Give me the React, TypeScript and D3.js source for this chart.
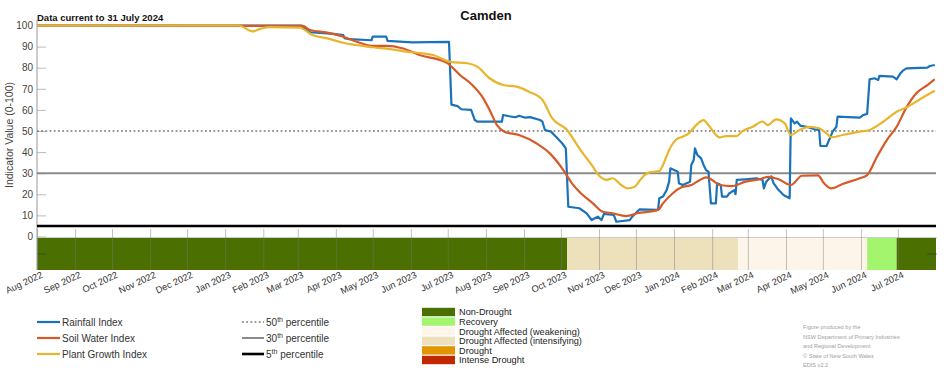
import { useRef, useEffect } from 'react';
import * as d3 from 'd3';

// readings (date, index value)
const rainfallIndex: [string, number][] = [
  ['2022-08-01', 100], ['2023-03-04', 100], ['2023-03-08', 97.9], ['2023-03-11', 96.8], ['2023-03-30', 96],
  ['2023-04-07', 95.5], ['2023-04-08', 94], ['2023-04-12', 93.5], ['2023-04-30', 93], ['2023-05-01', 94.7],
  ['2023-05-12', 94.7], ['2023-05-13', 92.7], ['2023-06-02', 92], ['2023-07-02', 92.2], ['2023-07-04', 62.5],
  ['2023-07-09', 61.8], ['2023-07-12', 60.3], ['2023-07-20', 60], ['2023-07-23', 55.2], ['2023-07-25', 54.4],
  ['2023-08-14', 54.4], ['2023-08-15', 57.6], ['2023-08-20', 57], ['2023-08-25', 56.5], ['2023-08-28', 57.2],
  ['2023-09-02', 56.3], ['2023-09-06', 56.6], ['2023-09-14', 55.2], ['2023-09-16', 54.4], ['2023-09-18', 50.5],
  ['2023-09-23', 49.7], ['2023-09-27', 47.3], ['2023-10-02', 44.2], ['2023-10-05', 41.8], ['2023-10-07', 14.1],
  ['2023-10-16', 13.4], ['2023-10-22', 11], ['2023-10-26', 7.8], ['2023-10-31', 9.4], ['2023-11-03', 7.8],
  ['2023-11-05', 10.7], ['2023-11-13', 10.2], ['2023-11-15', 7], ['2023-11-26', 7.8], ['2023-11-28', 9.4],
  ['2023-12-02', 11.7], ['2023-12-04', 12.9], ['2023-12-19', 12.6], ['2023-12-20', 18.1], ['2023-12-23', 18.9],
  ['2023-12-26', 22], ['2023-12-28', 26], ['2023-12-29', 32.3], ['2024-01-01', 31.5], ['2024-01-04', 30.7],
  ['2024-01-05', 25.2], ['2024-01-08', 24.4], ['2024-01-14', 26], ['2024-01-15', 33.9], ['2024-01-17', 36.3],
  ['2024-01-18', 41.8], ['2024-01-20', 38.6], ['2024-01-23', 37], ['2024-01-25', 33.9], ['2024-01-27', 31.5],
  ['2024-01-29', 30.7], ['2024-01-31', 15.7], ['2024-02-04', 15.7], ['2024-02-05', 25.2], ['2024-02-08', 24.4],
  ['2024-02-09', 18.9], ['2024-02-13', 18.9], ['2024-02-15', 20.5], ['2024-02-19', 22], ['2024-02-20', 20.1],
  ['2024-02-21', 26.8], ['2024-02-28', 27.1], ['2024-03-08', 27.6], ['2024-03-13', 26.8], ['2024-03-14', 22.8],
  ['2024-03-16', 26], ['2024-03-20', 28.5], ['2024-03-22', 25.2], ['2024-03-26', 22], ['2024-03-30', 19.7],
  ['2024-04-04', 18.1], ['2024-04-05', 56], ['2024-04-08', 53.6], ['2024-04-10', 54.4], ['2024-04-13', 52.4],
  ['2024-04-18', 52], ['2024-04-24', 50.8], ['2024-04-28', 50.5], ['2024-04-29', 42.9], ['2024-05-04', 42.9],
  ['2024-05-06', 45.7], ['2024-05-09', 49.7], ['2024-05-12', 52], ['2024-05-13', 56.8], ['2024-05-31', 56.3],
  ['2024-06-03', 57.6], ['2024-06-06', 58.1], ['2024-06-08', 74.5], ['2024-06-12', 75], ['2024-06-15', 74.2],
  ['2024-06-16', 76.1], ['2024-06-27', 75.8], ['2024-06-30', 74.5], ['2024-07-03', 77.3], ['2024-07-05', 78.6],
  ['2024-07-08', 79.7], ['2024-07-25', 80], ['2024-07-27', 80.8], ['2024-07-31', 81.3],
];

const soilWaterIndex: [string, number][] = [
  ['2022-08-01', 100], ['2023-03-05', 99.8], ['2023-03-11', 97.9], ['2023-03-25', 96.6], ['2023-04-07', 94.7],
  ['2023-04-18', 92.3], ['2023-05-01', 90.3], ['2023-05-12', 90.3], ['2023-05-25', 89.2], ['2023-06-08', 86],
  ['2023-06-30', 82.4], ['2023-07-11', 76.5], ['2023-07-21', 71.8], ['2023-07-29', 66.3], ['2023-08-04', 60],
  ['2023-08-10', 52.8], ['2023-08-16', 49.7], ['2023-08-28', 48.1], ['2023-09-11', 44.2], ['2023-09-22', 39.4],
  ['2023-10-03', 31.5], ['2023-10-10', 25.2], ['2023-10-16', 21.2], ['2023-10-27', 15.7], ['2023-11-04', 11.7],
  ['2023-11-12', 11], ['2023-11-23', 9.7], ['2023-12-02', 11], ['2023-12-19', 12.6], ['2023-12-23', 15.7],
  ['2023-12-31', 20.5], ['2024-01-07', 23.3], ['2024-01-15', 24.4], ['2024-01-22', 26.8], ['2024-01-27', 28],
  ['2024-02-01', 26.8], ['2024-02-07', 24.4], ['2024-02-17', 23.9], ['2024-02-28', 26], ['2024-03-10', 27.1],
  ['2024-03-18', 28.3], ['2024-03-26', 27.1], ['2024-04-05', 24.4], ['2024-04-14', 28.8], ['2024-04-27', 29],
  ['2024-05-02', 25.2], ['2024-05-08', 22.8], ['2024-05-17', 24.9], ['2024-05-31', 27.6], ['2024-06-06', 29.1],
  ['2024-06-14', 37.8], ['2024-06-22', 45.7], ['2024-06-30', 52], ['2024-07-08', 61.2], ['2024-07-16', 67.9],
  ['2024-07-25', 71.8], ['2024-07-31', 74.5],
];

const plantGrowthIndex: [string, number][] = [
  ['2022-08-01', 100], ['2023-01-12', 100], ['2023-01-23', 97.2], ['2023-01-30', 98.5], ['2023-02-06', 99.2],
  ['2023-03-03', 99], ['2023-03-05', 98.5], ['2023-03-13', 95.5], ['2023-03-25', 93.9], ['2023-04-07', 91.8],
  ['2023-05-01', 89.7], ['2023-05-17', 88.7], ['2023-05-28', 87.6], ['2023-06-06', 87.1], ['2023-06-19', 86],
  ['2023-07-03', 82.8], ['2023-07-17', 82.1], ['2023-07-25', 80.5], ['2023-08-04', 75], ['2023-08-15', 71.8],
  ['2023-08-26', 71], ['2023-09-05', 68.6], ['2023-09-16', 64.7], ['2023-09-24', 56], ['2023-10-06', 50.5],
  ['2023-10-16', 41.8], ['2023-10-26', 33.9], ['2023-11-02', 28.3], ['2023-11-07', 26.8], ['2023-11-12', 27.6],
  ['2023-11-19', 24.4], ['2023-11-24', 22.8], ['2023-11-30', 23.6], ['2023-12-04', 26.4], ['2023-12-08', 29.1],
  ['2023-12-12', 30.4], ['2023-12-20', 31], ['2023-12-23', 33.9], ['2023-12-28', 41], ['2024-01-03', 46.1],
  ['2024-01-08', 47.3], ['2024-01-13', 48.9], ['2024-01-19', 52.8], ['2024-01-25', 55.2], ['2024-01-29', 52.8],
  ['2024-02-03', 48.9], ['2024-02-07', 47], ['2024-02-12', 47.6], ['2024-02-21', 47.6], ['2024-02-25', 49.7],
  ['2024-03-05', 52], ['2024-03-13', 54.5], ['2024-03-17', 52.8], ['2024-03-24', 55.5], ['2024-03-31', 53.6],
  ['2024-04-05', 48.1], ['2024-04-12', 50.5], ['2024-04-20', 52], ['2024-04-28', 51.3], ['2024-05-04', 48.9],
  ['2024-05-08', 47], ['2024-05-17', 48.1], ['2024-05-31', 49.7], ['2024-06-08', 50.5], ['2024-06-19', 54.4],
  ['2024-06-30', 59.1], ['2024-07-10', 61.8], ['2024-07-18', 64.7], ['2024-07-31', 69.1],
];

// drought phase bar: [start, end, phase]
const droughtPhases: [string, string, string][] = [
  ['2022-08-01', '2023-10-06', 'Non-Drought'],
  ['2023-10-06', '2024-02-22', 'Drought Affected (intensifying)'],
  ['2024-02-22', '2024-06-06', 'Drought Affected (weakening)'],
  ['2024-06-06', '2024-06-30', 'Recovery'],
  ['2024-06-30', '2024-08-01', 'Non-Drought'],
];

const phaseNames = [
  'Non-Drought', 'Recovery', 'Drought Affected (weakening)',
  'Drought Affected (intensifying)', 'Drought', 'Intense Drought',
];
const phaseColors = ['#4b6f00', '#a4f56e', '#fdf5e9', '#ede1bc', '#e39500', '#c12800'];

const seriesNames = ['Rainfall Index', 'Soil Water Index', 'Plant Growth Index'];
const seriesColors = ['#1a73ba', '#d65a28', '#e9b52c'];

const percentiles = [50, 30, 5];
const yTicks = [0, 10, 20, 30, 40, 50, 60, 70, 80, 90, 100];

const footnote = [
  'Figure produced by the',
  'NSW Department of Primary Industries',
  'and Regional Development',
  '\u00a9 State of New South Wales',
  'EDIS v2.2',
];

const FONT = '"Liberation Sans", Arial, sans-serif';

export default function App() {
  const svgRef = useRef<SVGSVGElement>(null);

  useEffect(() => {
    if (!svgRef.current) return;
    const svg = d3.select(svgRef.current);
    svg.selectAll('*').remove();
    svg.style('font-family', FONT);

    const parse = d3.timeParse('%Y-%m-%d');
    const x = d3.scaleTime()
      .domain([parse('2022-08-01')!, parse('2024-08-01')!])
      .range([37, 936]);
    const y = d3.scaleLinear().domain([0, 100]).range([236.5, 25.5]);
    const barTop = 237.5, barBottom = 270;
    const colorOf = d3.scaleOrdinal<string, string>().domain(phaseNames).range(phaseColors);

    // drought phase bar
    svg.append('g').selectAll('rect')
      .data(droughtPhases)
      .enter().append('rect')
      .attr('x', d => x(parse(d[0])!))
      .attr('width', d => x(parse(d[1])!) - x(parse(d[0])!))
      .attr('y', barTop)
      .attr('height', barBottom - barTop)
      .attr('fill', d => colorOf(d[2]));

    svg.append('line')
      .attr('x1', 37).attr('x2', 937).attr('y1', barTop).attr('y2', barTop)
      .attr('stroke', '#ccc').attr('stroke-width', 1);

    // x axis (month ticks crossing the bar)
    const months = d3.timeMonth.range(parse('2022-08-01')!, parse('2024-07-02')!);
    const xAxis = svg.append('g')
      .attr('transform', `translate(0,${barBottom})`)
      .call(d3.axisBottom(x).tickValues(months).tickSize(-(barBottom - 229)).tickFormat(d3.timeFormat('%b %Y') as any));
    xAxis.select('.domain').remove();
    xAxis.selectAll('.tick line').attr('stroke', '#777').attr('stroke-opacity', 0.45);
    xAxis.selectAll('.tick text')
      .attr('font-family', FONT)
      .attr('font-size', 9.3)
      .attr('fill', '#333')
      .attr('text-anchor', 'end')
      .attr('dy', null)
      .attr('y', null)
      .attr('transform', 'translate(6,7) rotate(-25)');

    // small ticks on the bar edges
    svg.append('line').attr('x1', 37).attr('x2', 46).attr('y1', 254).attr('y2', 254).attr('stroke', '#333').attr('stroke-opacity', 0.5);
    svg.append('line').attr('x1', 927).attr('x2', 937).attr('y1', 254).attr('y2', 254).attr('stroke', '#333').attr('stroke-opacity', 0.5);

    // y axis
    const yAxis = svg.append('g')
      .attr('transform', 'translate(37,0)')
      .call(d3.axisLeft(y).tickValues(yTicks).tickSize(-9).tickPadding(4));
    yAxis.select('.domain').remove();
    yAxis.selectAll('.tick line').attr('stroke', '#bbb');
    yAxis.selectAll('.tick text')
      .attr('font-family', FONT).attr('font-size', 10).attr('fill', '#444')
      .attr('x', -4);
    svg.append('line')
      .attr('x1', 37).attr('x2', 37).attr('y1', 20).attr('y2', barBottom)
      .attr('stroke', '#999').attr('stroke-width', 1);

    svg.append('text')
      .attr('transform', `translate(13,${(y(100) + y(0)) / 2 + 4}) rotate(-90)`)
      .attr('text-anchor', 'middle')
      .attr('font-size', 10.5).attr('fill', '#444')
      .text('Indicator Value (0-100)');

    // percentile reference lines
    const pctStyle = [
      { stroke: '#777', width: 1.6, dash: '1.8,2.4' },
      { stroke: '#8a8a8a', width: 2, dash: null },
      { stroke: '#000', width: 2.6, dash: null },
    ];
    percentiles.forEach((p, i) => {
      svg.append('line')
        .attr('x1', 37).attr('x2', 936)
        .attr('y1', y(p)).attr('y2', y(p))
        .attr('stroke', pctStyle[i].stroke)
        .attr('stroke-width', pctStyle[i].width)
        .attr('stroke-dasharray', pctStyle[i].dash);
    });

    // index lines
    const series = [rainfallIndex, soilWaterIndex, plantGrowthIndex];
    series.forEach((s, i) => {
      const line = d3.line<[string, number]>()
        .x(d => x(parse(d[0])!))
        .y(d => y(d[1]))
        .curve(i === 0 ? d3.curveLinear : d3.curveMonotoneX);
      svg.append('path')
        .datum(s)
        .attr('d', line)
        .attr('fill', 'none')
        .attr('stroke', seriesColors[i])
        .attr('stroke-width', 2.2)
        .attr('stroke-linejoin', 'round');
    });

    // titles
    svg.append('text')
      .attr('x', 486).attr('y', 20)
      .attr('text-anchor', 'middle')
      .attr('font-size', 13).attr('font-weight', 'bold').attr('fill', '#111')
      .text('Camden');
    svg.append('text')
      .attr('x', 37).attr('y', 21)
      .attr('font-size', 9.5).attr('font-weight', 'bold').attr('fill', '#111')
      .text('Data current to 31 July 2024');

    // legend: index series
    const legY = [322, 338, 354];
    seriesNames.forEach((n, i) => {
      svg.append('line')
        .attr('x1', 37).attr('x2', 60).attr('y1', legY[i]).attr('y2', legY[i])
        .attr('stroke', seriesColors[i]).attr('stroke-width', 2.2);
      svg.append('text')
        .attr('x', 62).attr('y', legY[i] + 3.5)
        .attr('font-size', 10).attr('fill', '#333')
        .text(n);
    });

    // legend: percentiles
    percentiles.forEach((p, i) => {
      svg.append('line')
        .attr('x1', 242).attr('x2', 264).attr('y1', legY[i]).attr('y2', legY[i])
        .attr('stroke', pctStyle[i].stroke)
        .attr('stroke-width', pctStyle[i].width)
        .attr('stroke-dasharray', pctStyle[i].dash);
      const t = svg.append('text')
        .attr('x', 266).attr('y', legY[i] + 4)
        .attr('font-size', 10).attr('fill', '#333');
      t.append('tspan').text(String(p));
      t.append('tspan').attr('font-size', 7).attr('dy', -4).text('th');
      t.append('tspan').attr('dy', 4).text(' percentile');
    });

    // legend: drought phases
    phaseNames.forEach((n, i) => {
      const cy = 312 + i * 9.6;
      svg.append('rect')
        .attr('x', 422).attr('y', cy - 4.2).attr('width', 33).attr('height', 8.4)
        .attr('fill', phaseColors[i]);
      svg.append('text')
        .attr('x', 459).attr('y', cy + 3.3)
        .attr('font-size', 9.2).attr('fill', '#222')
        .text(n);
    });

    // credits
    footnote.forEach((t, i) => {
      svg.append('text')
        .attr('x', 803).attr('y', 329 + i * 9.5)
        .attr('font-size', 5.6).attr('fill', '#a0a0a0')
        .text(t);
    });
  }, []);

  return (
    <svg
      ref={svgRef}
      width={952}
      height={370}
      style={{ position: 'absolute', left: 0, top: 0, background: '#fff' }}
      role="img"
      aria-label="Camden drought indicators chart"
    />
  );
}
